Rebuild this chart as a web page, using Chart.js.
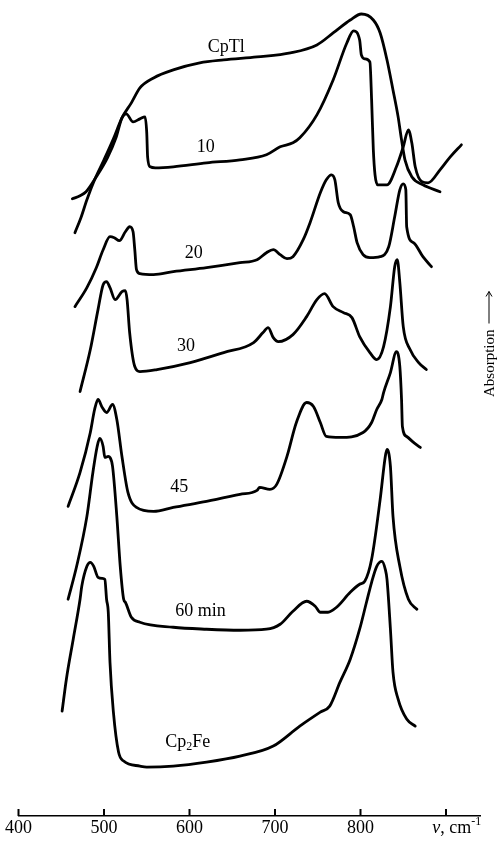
<!DOCTYPE html>
<html>
<head>
<meta charset="utf-8">
<title>IR spectra, CpTl to Cp2Fe</title>
<script src="https://cdn.jsdelivr.net/npm/chart.js@4.4.1/dist/chart.umd.min.js"></script>
<style>
  html, body { margin: 0; padding: 0; background: #fff; }
  #wrap { width: 498px; height: 841px; }
</style>
</head>
<body>
<div id="wrap"><canvas id="spectra"></canvas></div>
<script>
// Each spectrum: [wavenumber cm-1, absorption (arbitrary units, curves stacked)]
const cpTl = [
  [466, 58.4], [473, 59.9], [480, 61.7], [489, 63.7], [500, 65.7], [511, 67.8], [521, 69.9],
  [532, 71.4], [542, 72.9], [558, 73.9], [581, 74.7], [612, 75.4], [640, 75.7], [679, 76.0],
  [718, 76.4], [749, 77.2], [768, 78.4], [788, 79.7], [801, 80.3], [815, 79.7], [823, 78.4],
  [831, 75.7], [838, 72.7], [844, 70.0], [848, 67.7], [852, 65.7], [860, 64.0], [873, 63.2],
  [893, 62.5]
];
const min10 = [
  [463, 61.8], [472, 62.1], [479, 62.5], [491, 64.0], [504, 65.9], [514, 67.9], [521, 69.9],
  [526, 70.3], [534, 69.5], [542, 69.8], [548, 70.0], [550, 68.4], [551, 66.0], [554, 65.0],
  [560, 64.9], [581, 65.0], [620, 65.4], [659, 65.7], [690, 66.2], [706, 67.0], [721, 67.4],
  [729, 67.9], [749, 70.2], [768, 73.7], [784, 77.4], [792, 78.6], [799, 77.7], [801, 76.2],
  [805, 75.8], [811, 75.5], [813, 71.7], [815, 66.7], [817, 64.2], [820, 63.2], [831, 63.2],
  [842, 65.0], [850, 67.0], [856, 68.7], [860, 67.4], [864, 65.0], [872, 63.5], [879, 63.4],
  [893, 64.7], [905, 66.0], [918, 67.2]
];
const min20 = [
  [466, 51.0], [480, 52.9], [491, 54.9], [499, 56.7], [507, 58.0], [512, 57.9], [518, 57.6],
  [525, 58.5], [530, 59.0], [534, 58.5], [536, 56.7], [538, 54.7], [542, 54.3], [558, 54.2],
  [581, 54.5], [620, 54.9], [659, 55.4], [679, 55.7], [690, 56.4], [698, 56.7], [706, 56.2],
  [714, 55.8], [721, 56.0], [733, 57.7], [741, 59.4], [753, 62.4], [760, 63.7], [766, 64.2],
  [770, 63.7], [774, 61.4], [780, 60.5], [788, 60.2], [792, 59.0], [796, 57.4], [803, 56.2],
  [811, 55.9], [823, 56.0], [833, 57.0], [840, 60.0], [846, 62.7], [850, 63.3], [853, 62.7],
  [854, 59.0], [862, 57.4], [873, 56.0], [883, 55.0]
];
const min30 = [
  [472, 42.5], [484, 46.7], [493, 50.7], [499, 53.2], [503, 53.5], [507, 52.9], [513, 51.7],
  [521, 52.5], [525, 52.6], [527, 51.7], [530, 48.4], [536, 45.0], [542, 44.5], [562, 44.7],
  [601, 45.4], [640, 46.4], [675, 47.4], [686, 48.4], [692, 48.9], [698, 47.9], [704, 47.5],
  [721, 48.2], [737, 50.0], [749, 51.7], [758, 52.3], [768, 51.0], [780, 50.4], [790, 49.9],
  [799, 48.0], [811, 46.4], [819, 45.7], [827, 47.0], [835, 51.0], [840, 55.0], [843, 55.7],
  [846, 53.4], [850, 49.0], [858, 46.7], [868, 45.4], [877, 44.7]
];
const min45 = [
  [458, 31.0], [472, 34.4], [484, 38.4], [489, 40.7], [493, 41.7], [498, 40.9], [503, 40.4],
  [510, 41.2], [515, 39.7], [521, 36.0], [528, 32.4], [538, 30.9], [558, 30.5], [581, 30.9],
  [620, 31.5], [659, 32.2], [679, 32.6], [682, 32.9], [694, 32.7], [702, 33.2], [714, 36.0],
  [725, 39.4], [737, 41.4], [745, 41.0], [753, 39.4], [760, 38.0], [776, 37.9], [803, 38.4],
  [813, 39.4], [819, 40.7], [825, 41.7], [827, 42.4], [835, 44.4], [842, 46.5], [846, 45.0],
  [848, 41.7], [849, 39.0], [854, 38.0], [862, 37.4], [870, 36.9]
];
const min60 = [
  [458, 21.7], [468, 25.0], [480, 30.0], [487, 34.4], [492, 37.0], [495, 37.8], [499, 37.0],
  [501, 35.9], [505, 36.0], [507, 35.9], [510, 35.0], [515, 30.0], [519, 25.0], [523, 21.7],
  [525, 21.4], [532, 19.9], [542, 19.4], [581, 18.9], [620, 18.7], [659, 18.6], [690, 18.7],
  [706, 19.2], [721, 20.5], [737, 21.5], [747, 21.0], [753, 20.4], [762, 20.4], [772, 20.9],
  [788, 22.4], [799, 23.2], [805, 23.5], [813, 25.7], [823, 31.7], [829, 36.0], [831, 36.7],
  [835, 35.0], [838, 30.0], [846, 25.0], [856, 21.7], [866, 20.7]
];
const cp2Fe = [
  [451, 10.5], [456, 13.7], [464, 17.7], [472, 21.7], [474, 23.0], [480, 25.0], [484, 25.4],
  [488, 25.0], [493, 23.9], [498, 23.8], [501, 23.7], [503, 21.7], [505, 20.4], [507, 15.4],
  [511, 10.4], [517, 6.4], [523, 5.5], [542, 5.0], [550, 4.9], [581, 5.0], [620, 5.4],
  [659, 6.0], [698, 7.0], [729, 9.0], [753, 10.4], [764, 11.0], [776, 13.4], [788, 15.7],
  [799, 18.7], [807, 21.4], [813, 23.4], [819, 25.0], [825, 25.5], [829, 24.7], [831, 23.7],
  [835, 18.7], [838, 14.4], [844, 11.7], [854, 9.7], [864, 9.0]
];

const spectra = [cpTl, min10, min20, min30, min45, min60, cp2Fe];
const curveNames = ['CpTl', '10', '20', '30', '45', '60 min', 'Cp2Fe'];
// where each curve's name sits (wavenumber, absorption)
const labelNu = [643, 619, 605, 596, 588, 613, 598];
const labelAbs = [77.0, 67.0, 56.3, 47.0, 32.9, 20.5, 7.4];
const tickValues = [400, 500, 600, 700, 800, 900];

const serif = '"Liberation Serif", "DejaVu Serif", serif';

const annotate = {
  id: 'annotate',
  afterDraw(chart) {
    const { ctx, chartArea, scales: { x, y } } = chart;
    ctx.save();
    ctx.strokeStyle = '#000';
    ctx.fillStyle = '#000';

    // short tick marks standing up on the axis
    ctx.lineWidth = 2;
    tickValues.forEach(v => {
      const px = x.getPixelForValue(v);
      ctx.beginPath();
      ctx.moveTo(px, chartArea.bottom);
      ctx.lineTo(px, chartArea.bottom - 7);
      ctx.stroke();
    });

    // curve names
    ctx.textBaseline = 'middle';
    curveNames.forEach((name, i) => {
      const px = x.getPixelForValue(labelNu[i]);
      const py = y.getPixelForValue(labelAbs[i]);
      if (name === 'Cp2Fe') {
        ctx.font = '18px ' + serif;
        const w1 = ctx.measureText('Cp').width;
        const w3 = ctx.measureText('Fe').width;
        ctx.font = '12px ' + serif;
        const w2 = ctx.measureText('2').width;
        let sx = px - (w1 + w2 + w3) / 2;
        ctx.textAlign = 'left';
        ctx.font = '18px ' + serif;
        ctx.fillText('Cp', sx, py);
        ctx.font = '12px ' + serif;
        ctx.fillText('2', sx + w1, py + 5);
        ctx.font = '18px ' + serif;
        ctx.fillText('Fe', sx + w1 + w2, py);
      } else {
        ctx.textAlign = 'center';
        ctx.font = '18px ' + serif;
        ctx.fillText(name, px, py);
      }
    });

    // unit at the right end of the axis
    const ly = chartArea.bottom + 12;
    ctx.textAlign = 'left';
    ctx.font = '12px ' + serif;
    const wSup = ctx.measureText('-1').width;
    ctx.font = '18px ' + serif;
    const wUnit = ctx.measureText(', cm').width;
    ctx.font = 'italic 18px ' + serif;
    const wNu = ctx.measureText('ν').width;
    let ux = chartArea.right + 1 - (wNu + wUnit + wSup);
    ctx.fillText('ν', ux, ly);
    ctx.font = '18px ' + serif;
    ctx.fillText(', cm', ux + wNu, ly);
    ctx.font = '12px ' + serif;
    ctx.fillText('-1', ux + wNu + wUnit, ly - 6);

    // vertical "Absorption ->" on the right
    ctx.translate(490, 397);
    ctx.rotate(-Math.PI / 2);
    ctx.font = '15px ' + serif;
    ctx.textAlign = 'left';
    ctx.fillText('Absorption', 0, 0);
    const wa = ctx.measureText('Absorption').width;
    ctx.lineWidth = 1;
    ctx.beginPath();
    ctx.moveTo(wa + 6, -1);
    ctx.lineTo(wa + 38, -1);
    ctx.moveTo(wa + 33, -4);
    ctx.lineTo(wa + 38, -1);
    ctx.lineTo(wa + 33, 2);
    ctx.stroke();
    ctx.restore();
  }
};

new Chart(document.getElementById('spectra'), {
  type: 'line',
  data: {
    datasets: spectra.map((pts, i) => ({
      label: curveNames[i],
      data: pts.map(([nu, a]) => ({ x: nu, y: a })),
      borderColor: '#000',
      borderWidth: 2.8,
      pointRadius: 0,
      fill: false,
      cubicInterpolationMode: 'monotone',
      borderCapStyle: 'round',
      borderJoinStyle: 'round'
    }))
  },
  options: {
    responsive: true,
    maintainAspectRatio: false,
    animation: false,
    layout: { padding: { left: 18.5, right: 17.8, top: 7, bottom: 1.4 } },
    plugins: { legend: { display: false }, tooltip: { enabled: false } },
    scales: {
      x: {
        type: 'linear',
        min: 400,
        max: 940,
        afterBuildTicks: s => { s.ticks = tickValues.map(v => ({ value: v })); },
        grid: { display: false, drawTicks: false, tickLength: 0 },
        border: { display: true, color: '#000', width: 1.5 },
        ticks: {
          color: '#000',
          padding: 1,
          maxRotation: 0,
          autoSkip: false,
          font: { family: serif, size: 18 },
          callback: v => (v === 900 ? '' : String(v))
        }
      },
      y: { display: false, min: 0, max: 81 }
    }
  },
  plugins: [annotate]
});
</script>
</body>
</html>
